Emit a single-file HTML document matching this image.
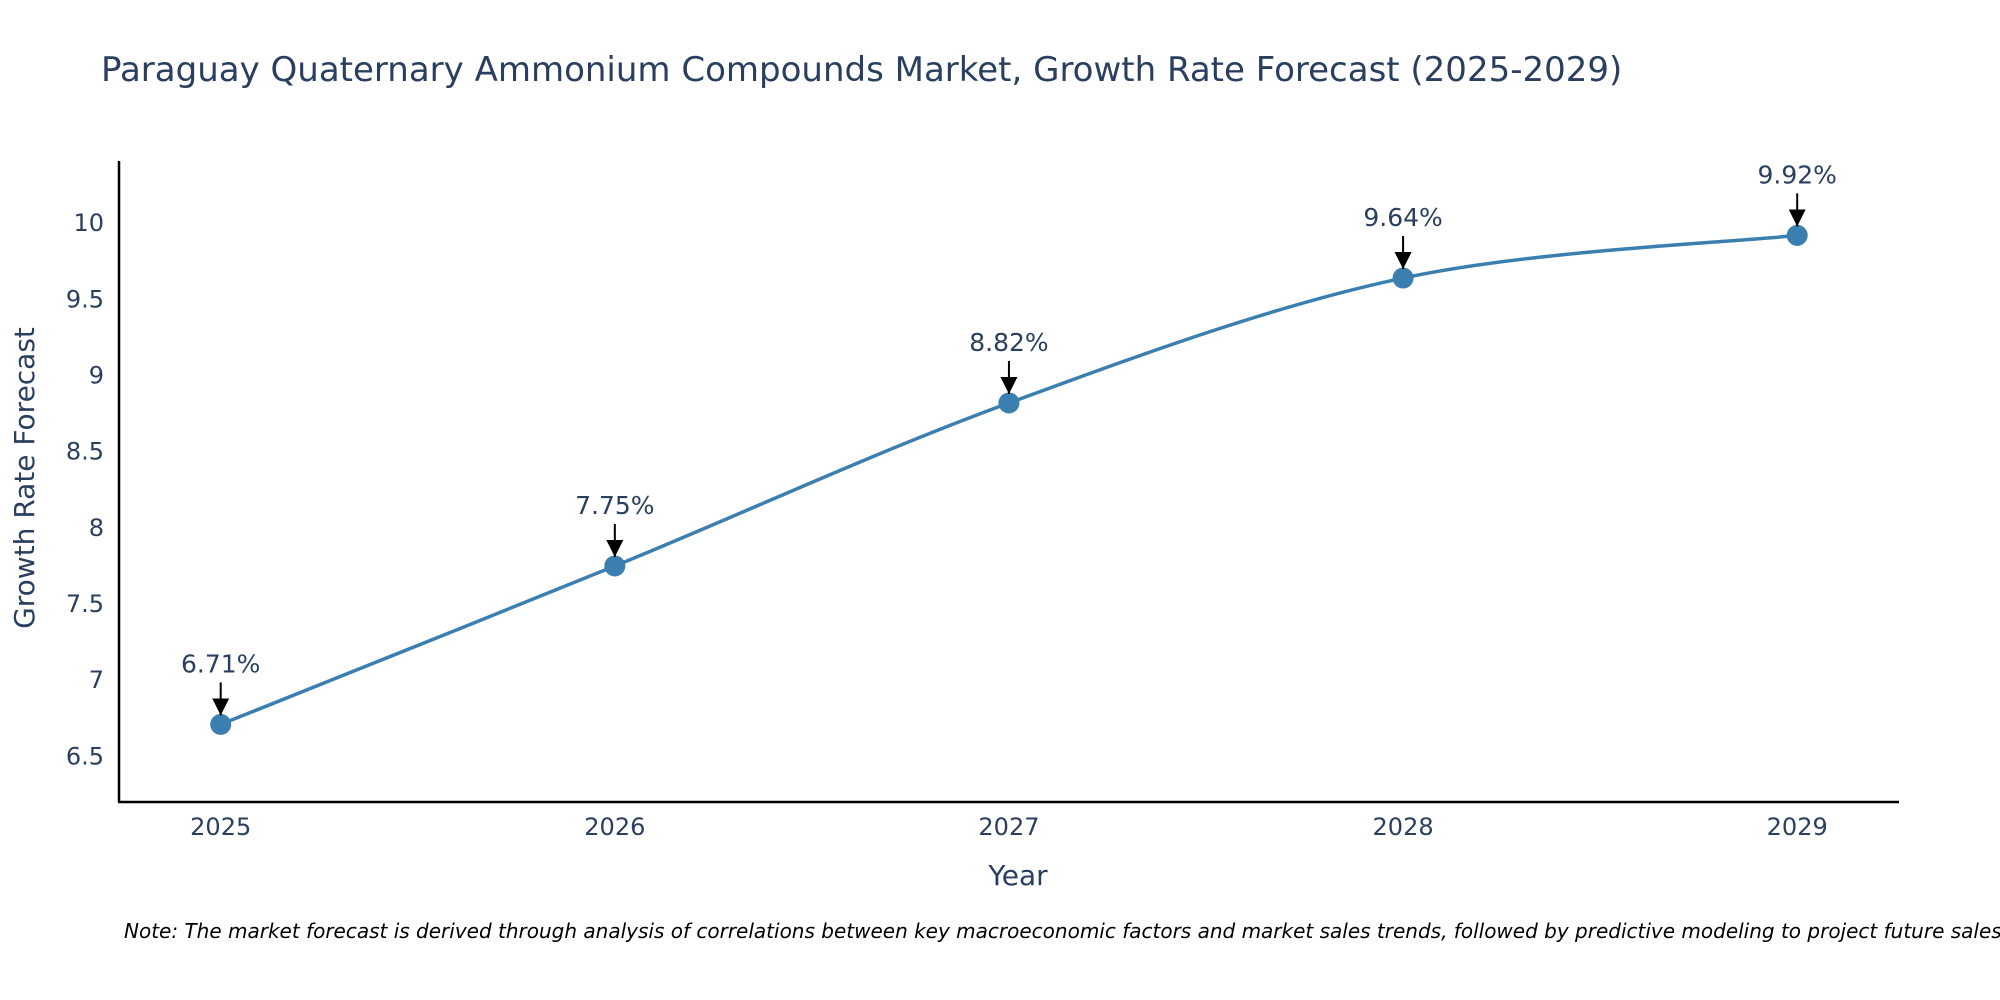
<!DOCTYPE html>
<html><head><meta charset="utf-8"><style>
body{margin:0;background:#fff;}
svg{display:block;font-family:"DejaVu Sans","Liberation Sans",sans-serif;}
</style></head><body>
<svg id="chart" width="2000" height="1000">
<defs><marker id="ah" viewBox="0 0 10 10" refX="10" refY="5" markerWidth="17" markerHeight="17" markerUnits="userSpaceOnUse" orient="auto"><path d="M0,0 L10,5 L0,10 z" fill="#000"/></marker></defs>
<text x="101" y="81" font-size="34" fill="#2a3f5f">Paraguay Quaternary Ammonium Compounds Market, Growth Rate Forecast (2025-2029)</text>
<g id="yt"></g><g id="xt"></g>
<line x1="119" y1="161" x2="119" y2="802" stroke="#000" stroke-width="2.5"/>
<line x1="118" y1="802" x2="1899" y2="802" stroke="#000" stroke-width="2.5"/>
<text transform="translate(34,478) rotate(-90)" text-anchor="middle" font-size="28" fill="#2a3f5f">Growth Rate Forecast</text>
<text x="1018" y="885" text-anchor="middle" font-size="28" fill="#2a3f5f">Year</text>
<text x="124" y="938" font-size="20" font-style="italic" fill="#000">Note: The market forecast is derived through analysis of correlations between key macroeconomic factors and market sales trends, followed by predictive modeling to project future sales.</text>
<g id="plot"></g>
</svg>
<script>
const years=[2025,2026,2027,2028,2029];
const values=[6.71,7.75,8.82,9.64,9.92];
const labels=["6.71%","7.75%","8.82%","9.64%","9.92%"];
const yTicks=[6.5,7,7.5,8,8.5,9,9.5,10];
const yTickLabels=["6.5","7","7.5","8","8.5","9","9.5","10"];
const NS="http://www.w3.org/2000/svg";
const xs=v=>220.7+(v-2025)*(1797.2-220.7)/4;
const ys=v=>756.4-(v-6.5)*(756.4-223.2)/3.5;
function mk(t,a,p){const e=document.createElementNS(NS,t);for(const k in a)e.setAttribute(k,a[k]);p.appendChild(e);return e;}
const yt=document.getElementById('yt'),xt=document.getElementById('xt'),pl=document.getElementById('plot');
yTicks.forEach((v,i)=>{const t=mk('text',{x:104,y:ys(v)+8,'text-anchor':'end','font-size':24,fill:'#2a3f5f'},yt);t.textContent=yTickLabels[i];

});
years.forEach(v=>{const t=mk('text',{x:xs(v),y:835,'text-anchor':'middle','font-size':24,fill:'#2a3f5f'},xt);t.textContent=String(v);

});
const P=years.map((y,i)=>[xs(y),ys(values[i])]);
let d=`M${P[0][0]},${P[0][1]}`;const s=0.5/3*2;
for(let i=0;i<P.length-1;i++){const p0=P[Math.max(0,i-1)],p1=P[i],p2=P[i+1],p3=P[Math.min(P.length-1,i+2)];
const c1=[p1[0]+(p2[0]-p0[0])*s/2,p1[1]+(p2[1]-p0[1])*s/2],c2=[p2[0]-(p3[0]-p1[0])*s/2,p2[1]-(p3[1]-p1[1])*s/2];
d+=` C${c1[0]},${c1[1]} ${c2[0]},${c2[1]} ${p2[0]},${p2[1]}`;}
const line=mk('path',{d:d,fill:'none',stroke:'#3a7fb0','stroke-width':3.5},pl);


P.forEach((p,i)=>{const c=mk('circle',{cx:p[0],cy:p[1],r:10.5,fill:'#3a7fb0'},pl);


const a=mk('line',{x1:p[0],y1:p[1]-42,x2:p[0],y2:p[1]-9,stroke:'#000','stroke-width':2,'marker-end':'url(#ah)'},pl);


const t=mk('text',{x:p[0],y:p[1]-52,'text-anchor':'middle','font-size':25,fill:'#2a3f5f'},pl);t.textContent=labels[i];

});
</script>
</body></html>
